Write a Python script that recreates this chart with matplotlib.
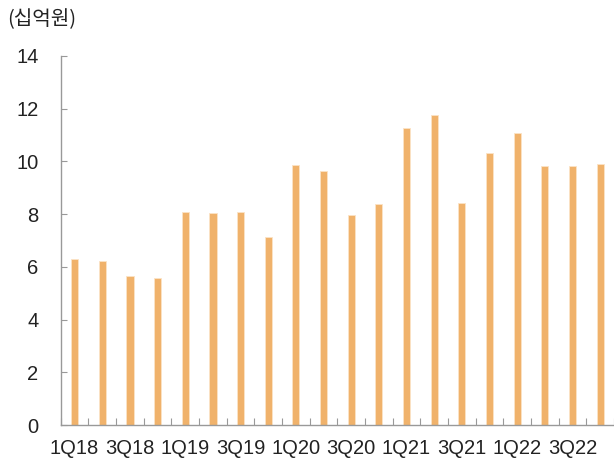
import matplotlib.pyplot as plt
import numpy as np

quarters = ['1Q18', '2Q18', '3Q18', '4Q18', '1Q19', '2Q19', '3Q19', '4Q19',
            '1Q20', '2Q20', '3Q20', '4Q20', '1Q21', '2Q21', '3Q21', '4Q21',
            '1Q22', '2Q22', '3Q22', '4Q22']
values = [6.30, 6.24, 5.64, 5.58, 8.07, 8.03, 8.07, 7.15,
          9.85, 9.62, 7.95, 8.40, 11.25, 11.74, 8.41, 10.33,
          11.09, 9.84, 9.84, 9.91]

plt.rcParams['font.family'] = ['Liberation Sans Narrow', 'Liberation Sans', 'DejaVu Sans']

fig = plt.figure(figsize=(6.14, 4.62), dpi=100)
ax = fig.add_axes([0.099, 0.080, 0.901, 0.799])

x = np.arange(len(quarters))
ax.bar(x, values, width=0.26, color='#F0B26B', edgecolor='#FBE3C6', linewidth=0.6)

ax.set_xlim(-0.5, len(quarters) - 0.5)
ax.set_ylim(0, 14)
ax.set_yticks(range(0, 15, 2))
ax.tick_params(axis='y', direction='in', length=4, color='#999999', labelsize=14.5, pad=16,
               labelcolor='#222222')

# tick marks sit between categories, labels on every second quarter
ax.set_xticks(np.arange(-0.5, len(quarters), 1.0))
ax.set_xticklabels([])
ax.set_xticks(x[::2], minor=True)
ax.set_xticklabels(quarters[::2], minor=True)
ax.tick_params(axis='x', which='major', direction='in', length=5, color='#999999')
ax.tick_params(axis='x', which='minor', length=0, labelsize=14.5, pad=10, labelcolor='#222222')

for s in ['top', 'right']:
    ax.spines[s].set_visible(False)
for s in ['left', 'bottom']:
    ax.spines[s].set_color('#999999')
    ax.spines[s].set_linewidth(1.0)

fig.text(0.011, 0.958, '(십억원)', fontsize=14.5, family=['Noto Sans CJK KR', 'DejaVu Sans'],
         ha='left', va='center', color='#222222')

plt.savefig('out.png', dpi=100)
